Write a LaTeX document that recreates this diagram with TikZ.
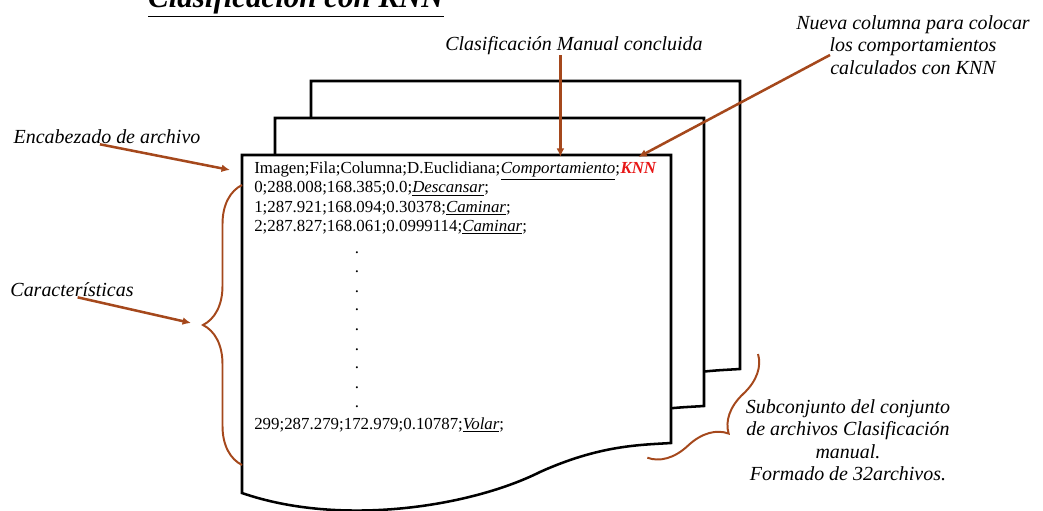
\documentclass[tikz,border=0pt]{standalone}
\usepackage{fontspec}
\setmainfont{Liberation Serif}
\usetikzlibrary{positioning,arrows.meta,decorations.pathreplacing}

\definecolor{arrowbrown}{RGB}{165,72,28}
\definecolor{knnred}{RGB}{232,22,22}
\newcommand{\uit}[1]{\underline{\textit{#1}}}
\tikzset{
  sheet/.style={draw=black, fill=white, line width=1.8pt},
  callout/.style={draw=arrowbrown, line width=1.8pt, -{Latex[length=6pt,width=5.5pt]}},
  curly/.style={draw=arrowbrown, line width=1.4pt, decorate, decoration={brace, amplitude=#1}},
  lbl/.style={font=\fontsize{14.2}{16}\selectfont\itshape, align=center, inner sep=0pt},
  row/.style={font=\fontsize{12}{14}\selectfont, inner sep=0pt, anchor=base west},
}

\begin{document}
\begin{tikzpicture}[x=0.025cm, y=-0.025cm]
  \useasboundingbox (0,0) rectangle (1043,511);
  \node[font=\fontsize{22}{24}\selectfont\bfseries\itshape, anchor=base] (title) at (296,8)
    {\underline{Clasificación con KNN}};
  % stack of sheets, back to front
  \foreach \dx/\dy in {69/-74, 33/-37, 0/0}
    \draw[sheet, shift={(\dx,\dy)}] (242,155) -- (671,155) -- (671,443)
      .. controls (640,445) and (600,445) .. (540,472)
      .. controls (470,507) and (340,527) .. (242,493) -- cycle;
  % file contents
  \node[row] (row0) at (254,174) {Imagen;Fila;Columna;D.Euclidiana;};
  \node[row, base right=0pt of row0] (comp) {\uit{Comportamiento};};
  \node[row, base right=0pt of comp, text=knnred,
        font=\fontsize{12}{14}\selectfont\bfseries\itshape] (knn) {KNN};
  \node[row] (row1) at (254,193) {0;288.008;168.385;0.0;\uit{Descansar};};
  \node[row] (row2) at (254,212) {1;287.921;168.094;0.30378;\uit{Caminar};};
  \node[row] (row3) at (254,231) {2;287.827;168.061;0.0999114;\uit{Caminar};};
  \foreach \y [count=\i] in {253,272,292,310,330,350,368,388,407}
    \node[row, anchor=center] (dot\i) at (357,\y) {.};
  \node[row] (rowlast) at (254,429) {299;287.279;172.979;0.10787;\uit{Volar};};
  % braces
  \draw[curly=0.975cm] (242,465) -- (242,185);
  \draw[curly=0.95cm] (758,354) -- (647,458);
  % labels
  \node[lbl] (lblhead) at (107,137) {Encabezado de archivo};
  \node[lbl] (lblmanual) at (574,46) {Clasificación Manual concluida};
  \node[lbl] (lblnueva) at (913,45) {Nueva columna para colocar\\los comportamientos\\calculados con KNN};
  \node[lbl] (lblcarac) at (72,290) {Características};
  \node[lbl] (lblsub) at (848,440) {Subconjunto del conjunto\\de archivos Clasificación\\manual.\\Formado de 32archivos.};
  % arrows
  \coordinate (caractip) at (191,323);
  \draw[callout] ([xshift=-5pt]lblhead.south) -- ([xshift=-0.6cm]row0.west);
  \draw[callout] (lblmanual.south -| comp.north) -- ([yshift=4pt]comp.north);
  \draw[callout] ([shift={(-83,10)}]lblnueva.center) -- ([yshift=4pt]knn.north);
  \draw[callout] ([xshift=4pt]lblcarac.south) -- (caractip);
\end{tikzpicture}
\end{document}
